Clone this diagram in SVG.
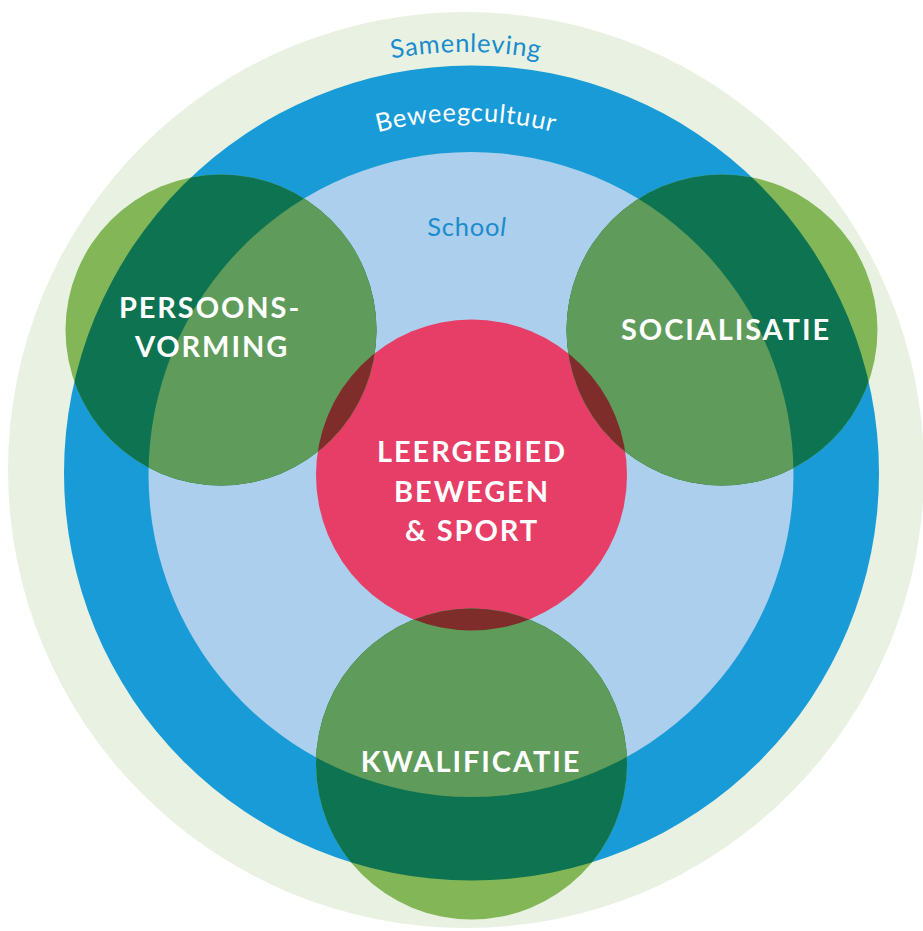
<svg xmlns="http://www.w3.org/2000/svg" xmlns:xlink="http://www.w3.org/1999/xlink" width="923" height="931" viewBox="0 0 923 931">
<style>
.ring{font-family:Lato,"Liberation Sans",sans-serif;font-size:25.5px;font-weight:400;letter-spacing:0.75px}
.lbl{font-family:Lato,"Liberation Sans",sans-serif;font-size:29px;font-weight:700;fill:#ffffff;text-anchor:middle;letter-spacing:1.9px}
.gOut{fill:#83b657}
.gBlue{fill:#0d7351}
.gLb{fill:#5f9b5b}
.gRed{fill:#7f2d2a}
</style>
<defs>
<clipPath id="clipBlue"><circle cx="471.5" cy="473" r="407.5"/></clipPath>
<clipPath id="clipLb"><circle cx="471" cy="474.5" r="322.5"/></clipPath>
<clipPath id="clipRed"><circle cx="471.5" cy="475" r="155.5"/></clipPath>
<path id="arcSam" d="M 45 473 A 421 421 0 0 1 887 473"/>
<path id="arcBew" d="M 114 473 A 352 352 0 0 1 818 473"/>
</defs>
<g id="samenleving">
<circle cx="466" cy="470" r="458" fill="#e9f2e2"/>
<text class="ring" fill="#1a8ccd" text-anchor="middle"><textPath xlink:href="#arcSam" href="#arcSam" startOffset="50%">Samenleving</textPath></text>
</g>
<g id="beweegcultuur">
<circle cx="471.5" cy="473" r="407.5" fill="#189bd7"/>
<text class="ring" fill="#ffffff" text-anchor="middle"><textPath xlink:href="#arcBew" href="#arcBew" startOffset="50%">Beweegcultuur</textPath></text>
</g>
<g id="school">
<circle cx="471" cy="474.5" r="322.5" fill="#abcfec"/>
<text class="ring" fill="#1a8ccd" x="467" y="236" text-anchor="middle">Schoo<tspan font-style="italic">l</tspan></text>
</g>
<g id="leergebied">
<circle cx="471.5" cy="475" r="155.5" fill="#e63e66"/>
</g>
<g id="connectors"></g>
<g id="persoonsvorming">
<circle class="gOut" cx="221" cy="330" r="155.5"/>
<circle class="gBlue" cx="221" cy="330" r="155.5" clip-path="url(#clipBlue)"/>
<circle class="gLb" cx="221" cy="330" r="155.5" clip-path="url(#clipLb)"/>
<circle class="gRed" cx="221" cy="330" r="155.5" clip-path="url(#clipRed)"/>
</g>
<g id="socialisatie">
<circle class="gOut" cx="722" cy="330" r="155.5"/>
<circle class="gBlue" cx="722" cy="330" r="155.5" clip-path="url(#clipBlue)"/>
<circle class="gLb" cx="722" cy="330" r="155.5" clip-path="url(#clipLb)"/>
<circle class="gRed" cx="722" cy="330" r="155.5" clip-path="url(#clipRed)"/>
</g>
<g id="kwalificatie">
<circle class="gOut" cx="471.5" cy="764" r="155.5"/>
<circle class="gBlue" cx="471.5" cy="764" r="155.5" clip-path="url(#clipBlue)"/>
<circle class="gLb" cx="471.5" cy="764" r="155.5" clip-path="url(#clipLb)"/>
<circle class="gRed" cx="471.5" cy="764" r="155.5" clip-path="url(#clipRed)"/>
</g>
<g id="labels">
<text class="lbl" x="210" y="318">PERSOONS-</text>
<text class="lbl" x="212" y="357">VORMING</text>
<text class="lbl" x="726" y="340">SOCIALISATIE</text>
<text class="lbl" x="472" y="462">LEERGEBIED</text>
<text class="lbl" x="472" y="502">BEWEGEN</text>
<text class="lbl" x="472" y="541">&amp; SPORT</text>
<text class="lbl" x="471" y="772">KWALIFICATIE</text>
</g>
</svg>
